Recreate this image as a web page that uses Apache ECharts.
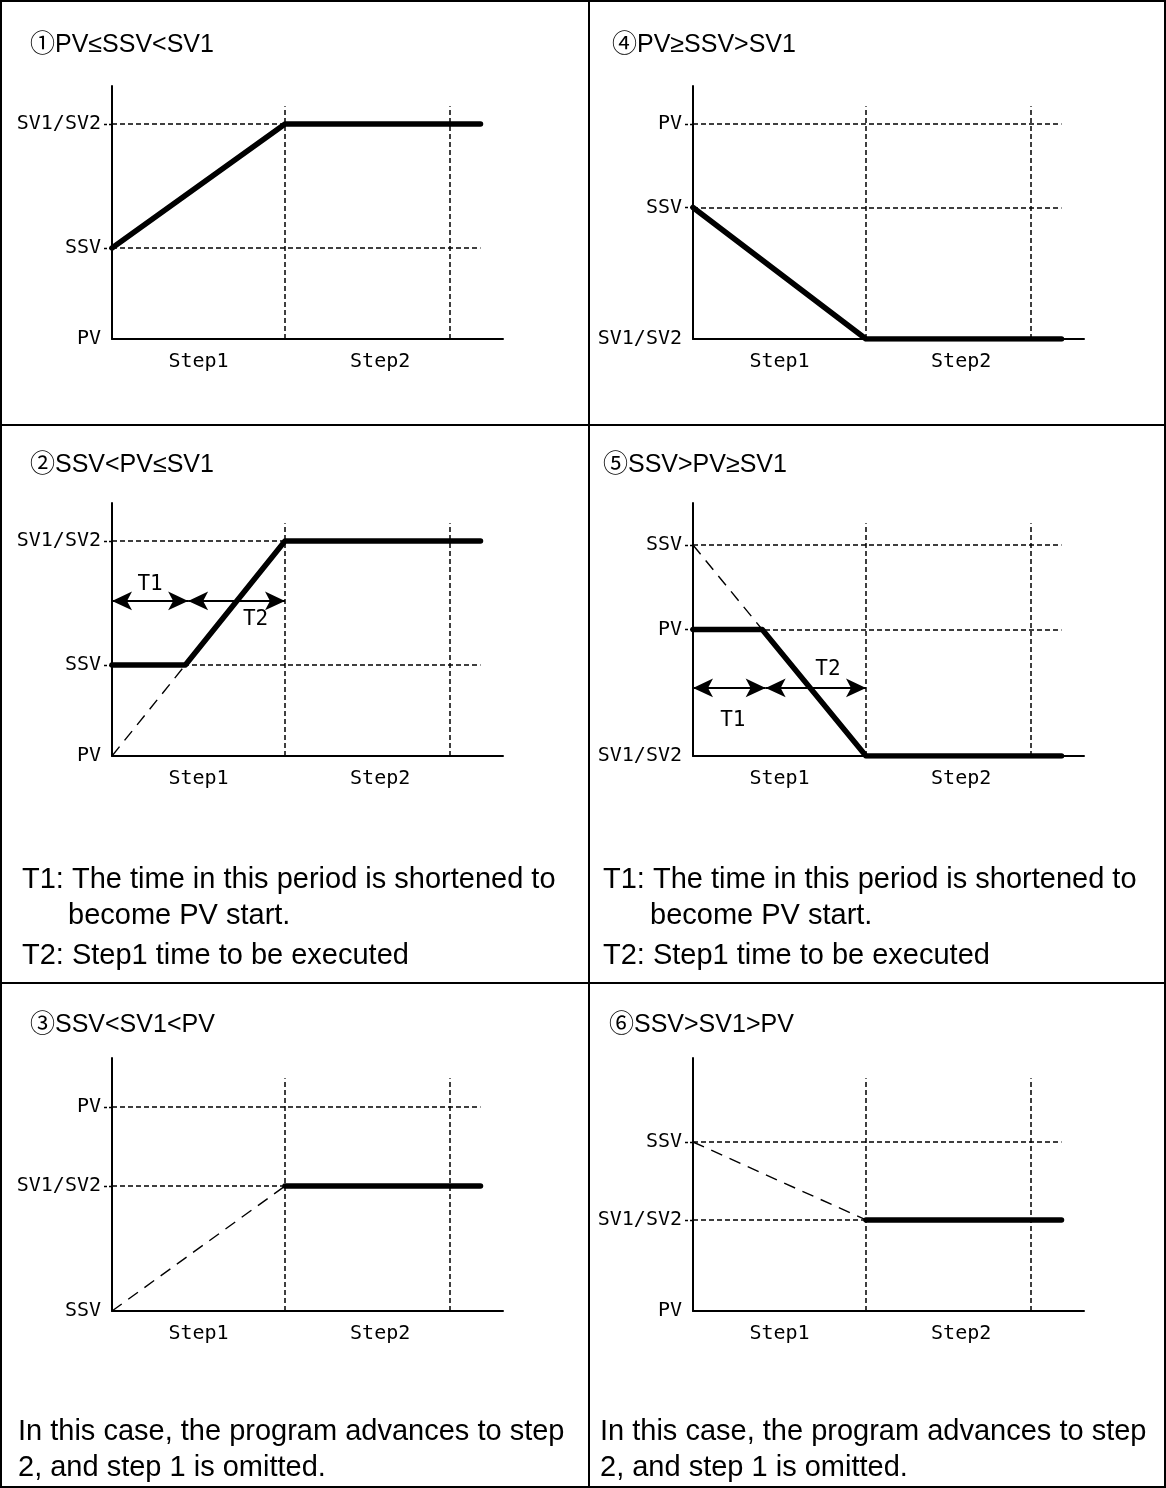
<!DOCTYPE html>
<html><head><meta charset="utf-8">
<script src="https://cdn.jsdelivr.net/npm/echarts@6/dist/echarts.min.js"></script>
<style>html,body{margin:0;padding:0;background:#fff}#c{width:1166px;height:1488px}</style>
</head><body><div id="c"></div>
<script>
// ---- data (x units: 0 = start, 10 = end of Step1, 19.5 = end of Step2) ----
const stepNames = ['Step1', 'Step2'];
const stepLabelX = [5, 15.5];
const stepBounds = [10, 19.5];
const lineEndX = 21.3;

const titles = ['①PV≤SSV<SV1', '②SSV<PV≤SV1', '③SSV<SV1<PV', '④PV≥SSV>SV1', '⑤SSV>PV≥SV1', '⑥SSV>SV1>PV'];
const noteT = ['T1: The time in this period is shortened to', 'become PV start.', 'T2: Step1 time to be executed'];
const noteSkip = ['In this case, the program advances to step', '2, and step 1 is omitted.'];

// chart 1
const c1Names = ['PV', 'SSV', 'SV1/SV2'];
const c1Values = [0, 36, 85];
const c1Solid = [[0, 36], [10, 85], [21.3, 85]];
// chart 2
const c2Names = ['PV', 'SSV', 'SV1/SV2'];
const c2Values = [0, 36, 85];
const c2Solid = [[0, 36], [4.24, 36], [10, 85], [21.3, 85]];
const c2Dashed = [[0, 0], [4.24, 36]];
const c2ArrowY = 61.3;
const c2ArrowT1 = [0, 4.4];
const c2ArrowT2 = [4.4, 10];
const c2TLabels = [[2.2, 67.6, 'T1'], [8.3, 54.0, 'T2']];
// chart 3
const c3Names = ['SSV', 'SV1/SV2', 'PV'];
const c3Values = [0, 49.4, 80.6];
const c3Solid = [[10, 49.4], [21.3, 49.4]];
const c3Dashed = [[0, 0], [10, 49.4]];
// chart 4
const c4Names = ['SV1/SV2', 'SSV', 'PV'];
const c4Values = [0, 52, 85];
const c4Solid = [[0, 52], [10, 0], [21.3, 0]];
// chart 5
const c5Names = ['SV1/SV2', 'PV', 'SSV'];
const c5Values = [0, 50, 83.4];
const c5Solid = [[0, 50], [4.0, 50], [10, 0], [21.3, 0]];
const c5Dashed = [[0, 83.4], [4.0, 50]];
const c5ArrowY = 26.9;
const c5ArrowT1 = [0, 4.2];
const c5ArrowT2 = [4.2, 10];
const c5TLabels = [[2.3, 14.2, 'T1'], [7.8, 34.0, 'T2']];
// chart 6
const c6Names = ['PV', 'SV1/SV2', 'SSV'];
const c6Values = [0, 36, 66.8];
const c6Solid = [[10, 36], [21.3, 36]];
const c6Dashed = [[0, 66.8], [10, 36]];

// ---- layout ----
const GRID_W = 391, GRID_H = 253;
const charts = [
  {ox: 112, oy: 339, names: c1Names, values: c1Values, solid: c1Solid},
  {ox: 112, oy: 756, names: c2Names, values: c2Values, solid: c2Solid, dashed: c2Dashed,
   arrowY: c2ArrowY, arrows: [c2ArrowT1, c2ArrowT2], tLabels: c2TLabels},
  {ox: 112, oy: 1311, names: c3Names, values: c3Values, solid: c3Solid, dashed: c3Dashed},
  {ox: 693, oy: 339, names: c4Names, values: c4Values, solid: c4Solid},
  {ox: 693, oy: 756, names: c5Names, values: c5Values, solid: c5Solid, dashed: c5Dashed,
   arrowY: c5ArrowY, arrows: [c5ArrowT1, c5ArrowT2], tLabels: c5TLabels},
  {ox: 693, oy: 1311, names: c6Names, values: c6Values, solid: c6Solid, dashed: c6Dashed}
];

const MONO = '"DejaVu Sans Mono", "Liberation Mono", monospace';
const SANS = '"Liberation Sans", Arial, "Noto Sans CJK JP", sans-serif';

const grid = [], xAxis = [], yAxis = [], series = [];
charts.forEach((c, i) => {
  grid.push({left: c.ox, top: c.oy - GRID_H, width: GRID_W, height: GRID_H});
  xAxis.push({
    type: 'value', gridIndex: i, min: 0, max: 22.6,
    axisLine: {show: true, onZero: false, lineStyle: {color: '#000', width: 2}},
    axisTick: {show: false}, splitLine: {show: false},
    axisLabel: {customValues: stepLabelX, margin: 13, color: '#000', fontFamily: MONO, fontSize: 20,
      formatter: v => stepNames[stepLabelX.indexOf(v)] || ''}
  });
  yAxis.push({
    type: 'value', gridIndex: i, min: 0, max: 100,
    axisLine: {show: true, onZero: false, lineStyle: {color: '#000', width: 2}},
    axisTick: {show: true, customValues: c.values.filter(v => v !== 0), length: 9,
      lineStyle: {color: '#000', width: 1.4, type: [3, 2]}},
    splitLine: {show: false},
    axisLabel: {customValues: c.values, margin: 11, color: '#000', fontFamily: MONO, fontSize: 20,
      formatter: v => c.names[c.values.indexOf(v)] || ''}
  });
  const guides = [];
  c.values.filter(v => v !== 0).forEach(v => guides.push([{coord: [0, v]}, {coord: [lineEndX, v]}]));
  stepBounds.forEach(b => guides.push([{coord: [b, 0]}, {coord: [b, 92]}]));
  series.push({
    type: 'line', xAxisIndex: i, yAxisIndex: i, data: [], silent: true,
    markLine: {silent: true, symbol: 'none', label: {show: false},
      lineStyle: {color: '#000', width: 1.5, type: [5, 3]}, emphasis: {disabled: true},
      data: guides}, z: 2
  });
  if (c.dashed) {
    series.push({type: 'line', xAxisIndex: i, yAxisIndex: i, data: c.dashed, symbol: 'none', silent: true,
      lineStyle: {color: '#000', width: 1.4, type: [12, 8]}, z: 3});
  }
  series.push({type: 'line', xAxisIndex: i, yAxisIndex: i, data: c.solid, symbol: 'none', silent: true,
    lineStyle: {color: '#000', width: 5.5, cap: 'round', join: 'round'}, z: 5});
  if (c.arrows) {
    series.push({
      type: 'line', xAxisIndex: i, yAxisIndex: i, data: [], silent: true,
      markLine: {silent: true, symbol: ['arrow', 'arrow'], symbolSize: [14, 20],
        label: {show: false}, emphasis: {disabled: true},
        lineStyle: {color: '#000', width: 2, type: 'solid'},
        itemStyle: {color: '#000'},
        data: c.arrows.map(a => [{coord: [a[0], c.arrowY]}, {coord: [a[1], c.arrowY]}])}, z: 6
    });
  }
});

function buildGraphic() {
  const graphic = [
    {type: 'rect', shape: {x: 1, y: 1, width: 1164, height: 1486}, style: {fill: 'none', stroke: '#000', lineWidth: 2}},
    {type: 'line', shape: {x1: 589, y1: 0, x2: 589, y2: 1488}, style: {stroke: '#000', lineWidth: 2}},
    {type: 'line', shape: {x1: 0, y1: 425, x2: 1166, y2: 425}, style: {stroke: '#000', lineWidth: 2}},
    {type: 'line', shape: {x1: 0, y1: 983, x2: 1166, y2: 983}, style: {stroke: '#000', lineWidth: 2}}
  ];
  const titlePos = [[30, 45], [30, 465], [30, 1025], [612, 45], [603, 465], [609, 1025]];
  titles.forEach((t, i) => graphic.push({type: 'text', x: titlePos[i][0], y: titlePos[i][1],
    style: {text: t, font: '25px ' + SANS, fill: '#000', verticalAlign: 'middle'}}));
  const TF = '29px ' + SANS;
  [[22, 68], [603, 650]].forEach(p => {
    graphic.push({type: 'text', x: p[0], y: 880, style: {text: noteT[0], font: TF, fill: '#000', verticalAlign: 'middle'}});
    graphic.push({type: 'text', x: p[1], y: 916, style: {text: noteT[1], font: TF, fill: '#000', verticalAlign: 'middle'}});
    graphic.push({type: 'text', x: p[0], y: 956, style: {text: noteT[2], font: TF, fill: '#000', verticalAlign: 'middle'}});
  });
  [18, 600].forEach(x => {
    graphic.push({type: 'text', x: x, y: 1432, style: {text: noteSkip[0], font: TF, fill: '#000', verticalAlign: 'middle'}});
    graphic.push({type: 'text', x: x, y: 1468, style: {text: noteSkip[1], font: TF, fill: '#000', verticalAlign: 'middle'}});
  });
  // T1 / T2 labels positioned through the chart's own scales
  charts.forEach((c, i) => {
    if (!c.tLabels) return;
    c.tLabels.forEach(t => {
      const px = chart.convertToPixel({gridIndex: i}, [t[0], t[1]]);
      graphic.push({type: 'text', x: px[0], y: px[1], z: 10,
        style: {text: t[2], font: '21px ' + MONO, fill: '#000', align: 'center', verticalAlign: 'middle'}});
    });
  });
  return graphic;
}

const chart = echarts.init(document.getElementById('c'), null, {renderer: 'canvas'});
chart.setOption({animation: false, backgroundColor: '#fff', grid, xAxis, yAxis, series});
chart.setOption({graphic: buildGraphic()});
</script></body></html>
